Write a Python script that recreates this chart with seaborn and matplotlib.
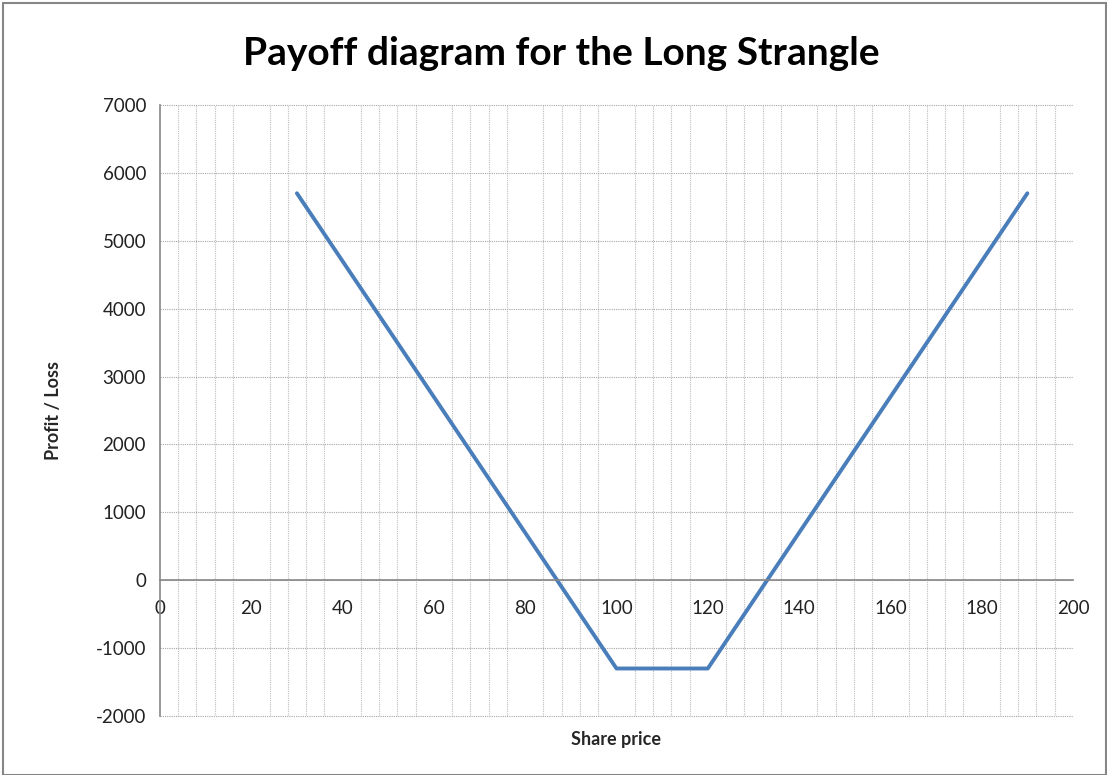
import numpy as np
import matplotlib
matplotlib.use("Agg")
import matplotlib.pyplot as plt
from matplotlib.patches import Rectangle
import seaborn as sns

sns.set_style("white")
plt.rcParams['font.family'] = ['Lato', 'DejaVu Sans']
plt.rcParams['axes.unicode_minus'] = False

# share price vs profit/loss of the long strangle
share_price = [30, 40, 50, 60, 70, 80, 90, 100, 110, 120, 130, 140, 150, 160, 170, 180, 190]
profit_loss = [5700, 4700, 3700, 2700, 1700, 700, -300, -1300, -1300, -1300,
               -300, 700, 1700, 2700, 3700, 4700, 5700]

x_ticks = [0, 20, 40, 60, 80, 100, 120, 140, 160, 180, 200]
y_ticks = [-2000, -1000, 0, 1000, 2000, 3000, 4000, 5000, 6000, 7000]

fig = plt.figure(figsize=(11.07, 7.75), dpi=100)
ax = fig.add_axes([0.1445, 0.0761, 0.9693 - 0.1445, 0.8645 - 0.0761])

sns.lineplot(x=share_price, y=profit_loss, ax=ax, color="#4A7EBB", linewidth=2.8)

ax.set_xlim(0, 200)
ax.set_ylim(-2000, 7000)
ax.set_xticks(x_ticks)
ax.set_yticks(y_ticks)
ax.set_xticks(np.arange(0, 201, 4), minor=True)

ax.grid(False)
ax.grid(True, which="minor", axis="x", color="#BFBFBF", linestyle=(0, (1, 1)), linewidth=0.8)
ax.grid(True, which="major", axis="y", color="#A6A6A6", linestyle=(0, (1, 1)), linewidth=0.8)
ax.set_axisbelow(True)
for t in ax.xaxis.get_minor_ticks() + ax.yaxis.get_major_ticks():
    t.gridline.set_clip_on(False)

for s in ["top", "right"]:
    ax.spines[s].set_visible(False)
ax.spines["left"].set_color("#868686")
ax.spines["left"].set_linewidth(1.2)
ax.spines["bottom"].set_position(("data", 0))
ax.spines["bottom"].set_color("#868686")
ax.spines["bottom"].set_linewidth(1.2)

ax.tick_params(axis="both", which="both", length=0, labelsize=13.5, colors="#222222")
ax.tick_params(axis="x", pad=14)
ax.tick_params(axis="y", pad=10)

fig.text(0.507, 0.931, "Payoff diagram for the Long Strangle", fontsize=28,
         fontweight="bold", ha="center", va="center", color="black")
ax.set_ylabel("Profit / Loss", fontsize=13, fontweight="bold")
ax.yaxis.set_label_coords(-0.107, 0.5)
ax.set_xlabel("Share price", fontsize=13, fontweight="bold")
ax.xaxis.set_label_coords(0.5, -0.024)

fig.patches.append(Rectangle((0.003, 0.0), 0.996, 0.996, transform=fig.transFigure,
                             fill=False, edgecolor="#868686", linewidth=1.5))

plt.savefig("out.png", dpi=100)
